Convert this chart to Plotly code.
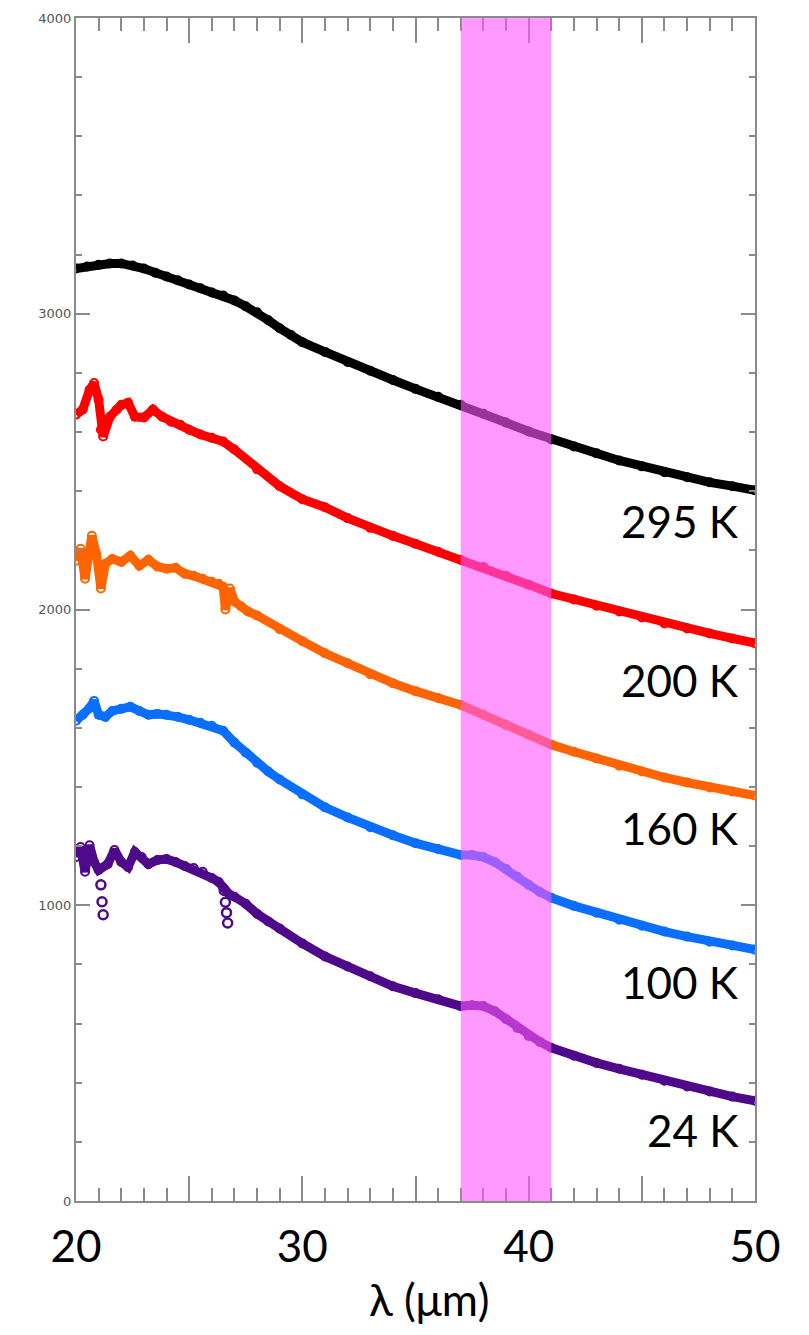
import plotly.graph_objects as go

# Wavelength grids (µm) and signal values for each temperature
lam_295 = [20, 20.5, 21, 21.5, 22, 22.5, 23, 23.5, 24, 24.5, 25, 25.5, 26, 26.5, 27, 27.5,
           28, 28.5, 29, 29.5, 30, 31, 32, 33, 34, 35, 36, 37, 38, 39, 40, 41, 42, 43, 44,
           45, 46, 47, 48, 49, 50]
val_295 = [3153, 3160, 3166, 3170, 3170, 3163, 3153, 3139, 3126, 3113, 3099, 3086, 3072,
           3062, 3045, 3025, 3005, 2978, 2951, 2928, 2904, 2871, 2837, 2807, 2776, 2746,
           2719, 2692, 2662, 2632, 2602, 2575, 2551, 2528, 2504, 2484, 2464, 2447, 2430,
           2417, 2403]

lam_200 = [20.0, 20.3, 20.6, 20.8, 21.0, 21.1, 21.2, 21.5, 21.8, 22.0, 22.3, 22.6, 23.0,
           23.4, 23.8, 24.2, 24.6, 25.0, 25.5, 26.0, 26.5, 27, 28, 29, 30, 31, 32, 33, 34,
           35, 36, 37, 38, 39, 40, 41, 42, 43, 44, 45, 46, 47, 48, 49, 50]
val_200 = [2659, 2676, 2743, 2766, 2709, 2608, 2585, 2652, 2676, 2692, 2699, 2652, 2649,
           2676, 2652, 2635, 2625, 2608, 2592, 2581, 2568, 2541, 2474, 2417, 2373, 2346,
           2309, 2276, 2249, 2222, 2195, 2168, 2144, 2114, 2084, 2054, 2034, 2013, 1993,
           1973, 1953, 1936, 1919, 1902, 1886]

lam_160 = [20.0, 20.2, 20.4, 20.7, 20.9, 21.1, 21.3, 21.6, 22.0, 22.4, 22.8, 23.2, 23.6,
           24.0, 24.4, 24.8, 25.2, 25.6, 26.0, 26.3, 26.5, 26.6, 26.8, 27.0, 27.3, 27.6,
           28, 29, 30, 31, 32, 33, 34, 35, 36, 37, 38, 39, 40, 41, 42, 43, 44, 45, 46, 47,
           48, 49, 50]
val_160 = [2165, 2205, 2104, 2249, 2188, 2071, 2155, 2171, 2161, 2182, 2148, 2168, 2145,
           2138, 2141, 2121, 2114, 2104, 2094, 2087, 2077, 2000, 2071, 2027, 2010, 1993,
           1980, 1933, 1893, 1852, 1818, 1781, 1751, 1724, 1701, 1677, 1644, 1610, 1577,
           1543, 1519, 1496, 1472, 1452, 1432, 1415, 1398, 1385, 1371]

lam_100 = [20.0, 20.3, 20.6, 20.8, 21.0, 21.3, 21.6, 22.0, 22.4, 22.8, 23.2, 23.6, 24.0,
           24.5, 25.0, 25.5, 26.0, 26.5, 27.0, 27.5, 28.0, 28.5, 29.0, 30, 31, 32, 33, 34,
           35, 36, 37, 37.5, 38, 38.5, 39, 39.5, 40, 40.5, 41, 42, 43, 44, 45, 46, 47, 48,
           49, 50]
val_100 = [1624, 1644, 1667, 1691, 1644, 1637, 1657, 1664, 1671, 1657, 1644, 1647, 1644,
           1637, 1627, 1617, 1607, 1590, 1550, 1516, 1482, 1452, 1425, 1375, 1331, 1297,
           1264, 1237, 1210, 1190, 1170, 1170, 1163, 1146, 1123, 1096, 1069, 1045, 1025,
           998, 975, 951, 931, 911, 894, 877, 864, 850]

lam_24 = [20.0, 20.2, 20.4, 20.6, 20.8, 21.0, 21.4, 21.7, 22.0, 22.3,
          22.6, 22.9, 23.2, 23.6, 24.0, 24.4, 24.8, 25.2, 25.6, 26.0, 26.3, 26.5,
          26.8, 27.0, 27.5, 28.0, 28.5, 29.0, 30, 31, 32, 33, 34, 35, 36, 37, 37.5,
          38, 38.5, 39, 39.5, 40, 40.5, 41, 42, 43, 44, 45, 46, 47, 48, 49, 50]
val_24 = [1163, 1197, 1113, 1203, 1146, 1119, 1139, 1187, 1146, 1129,
          1180, 1163, 1139, 1153, 1156, 1146, 1133, 1126, 1113, 1092, 1079, 1060,
          1035, 1029, 1005, 971, 945, 921, 871, 827, 793, 760, 726, 703, 682, 659, 662,
          659, 642, 615, 585, 558, 538, 518, 491, 467, 447, 427, 407, 387, 370, 353, 339]
# isolated low readings of the 24 K spectrum
lam_24_low = [21.1, 21.15, 21.2, 26.55, 26.6, 26.65, 26.7]
val_24_low = [1069, 1012, 968, 1050, 1010, 975, 940]

series_names = ["295 K", "200 K", "160 K", "100 K", "24 K"]
series_lam = [lam_295, lam_200, lam_160, lam_100, lam_24]
series_val = [val_295, val_200, val_160, val_100, val_24]
series_colors = ["#000000", "#FF0000", "#FF6400", "#0A6EFF", "#4E0A8A"]
label_pos = [2299, 1761, 1261, 740, 239]

band_lo, band_hi = 37, 41

x_tickvals = [20, 25, 30, 35, 40, 45, 50]
x_ticktext = ["20", "", "30", "", "40", "", "50"]
y_tickvals = [0, 1000, 2000, 3000, 4000]

FONT = "Lato, 'Open Sans', sans-serif"
AXIS_GREY = "#8a8a8a"

fig = go.Figure()
for name, lam, val, col in zip(series_names, series_lam, series_val, series_colors):
    fig.add_trace(go.Scatter(
        x=lam, y=val, name=name, mode="lines+markers",
        line=dict(color=col, width=9),
        marker=dict(symbol="circle-open", size=8, color=col, line=dict(width=2)),
        showlegend=False,
    ))

fig.add_trace(go.Scatter(
    x=lam_24_low, y=val_24_low, mode="markers", showlegend=False,
    marker=dict(symbol="circle-open", size=9, color=series_colors[4], line=dict(width=2.5)),
))

# translucent pink band drawn over the curves
fig.add_shape(type="rect", xref="x", yref="paper", x0=band_lo, x1=band_hi, y0=0, y1=1,
              fillcolor="rgba(255,85,255,0.6)", line=dict(width=0), layer="above")

for name, ypos in zip(series_names, label_pos):
    fig.add_annotation(x=49.39, y=ypos, xref="x", yref="y", text=name, showarrow=False,
                       xanchor="right", yanchor="middle",
                       font=dict(family=FONT, size=44, color="#000000"))

fig.add_annotation(x=0.521, y=-0.083, xref="paper", yref="paper", text="λ (μm)",
                   showarrow=False, xanchor="center", yanchor="middle",
                   font=dict(family=FONT, size=44, color="#000000"))

fig.update_xaxes(
    range=[20, 50], showgrid=False, zeroline=False,
    showline=True, linecolor=AXIS_GREY, linewidth=2, mirror="allticks",
    ticks="inside", ticklen=25, tickwidth=2, tickcolor=AXIS_GREY,
    tickvals=x_tickvals, ticktext=x_ticktext,
    tickfont=dict(family=FONT, size=44, color="#000000"),
    ticklabelstandoff=6,
    minor=dict(ticks="inside", dtick=1, ticklen=13, tickwidth=2, tickcolor=AXIS_GREY,
               showgrid=False),
)
fig.update_yaxes(
    range=[0, 4000], showgrid=False, zeroline=False,
    showline=True, linecolor=AXIS_GREY, linewidth=2, mirror="allticks",
    ticks="inside", ticklen=14, tickwidth=2, tickcolor=AXIS_GREY,
    tickvals=y_tickvals,
    tickfont=dict(family="DejaVu Sans, sans-serif", size=13, color="#555555"),
    minor=dict(ticks="inside", dtick=200, ticklen=6, tickwidth=2, tickcolor=AXIS_GREY,
               showgrid=False),
)

fig.update_layout(
    width=809, height=1335,
    margin=dict(l=76, r=54, t=11, b=134),
    paper_bgcolor="white", plot_bgcolor="white",
)

fig.write_html("out.html")
